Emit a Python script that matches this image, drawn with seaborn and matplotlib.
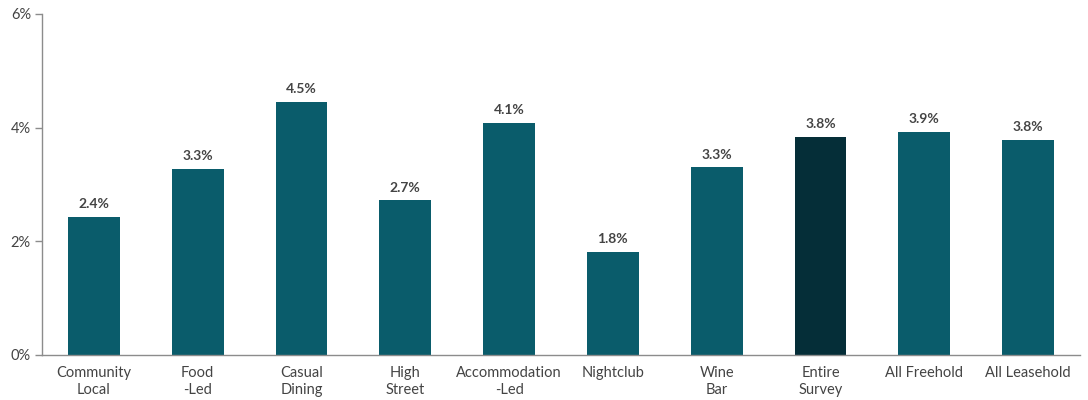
import matplotlib
matplotlib.use("Agg")
import matplotlib.pyplot as plt
import seaborn as sns
import pandas as pd
from matplotlib.ticker import FixedLocator, FuncFormatter

categories = ["Community\nLocal", "Food\n-Led", "Casual\nDining", "High\nStreet",
              "Accommodation\n-Led", "Nightclub", "Wine\nBar", "Entire\nSurvey",
              "All Freehold", "All Leasehold"]
values = [2.43, 3.28, 4.46, 2.72, 4.09, 1.81, 3.30, 3.84, 3.93, 3.78]
highlight = "Entire\nSurvey"

sns.set_theme(style="white")
plt.rcParams["font.family"] = ["Lato", "DejaVu Sans"]

base_color = "#0a5c6b"
dark_color = "#052e38"
text_color = "#444444"
axis_color = "#8c8c8c"

df = pd.DataFrame({"category": categories, "value": values})
palette = {c: (dark_color if c == highlight else base_color) for c in categories}

fig = plt.figure(figsize=(10.88, 4.0), dpi=100)
ax = fig.add_axes([0.0386, 0.1125, 0.954, 0.8525])

sns.barplot(data=df, x="category", y="value", hue="category", palette=palette,
            width=0.5, legend=False, ax=ax, saturation=1, edgecolor="none")

for i, v in enumerate(values):
    ax.text(i, v + 0.12, f"{v:.1f}%", ha="center", va="bottom",
            fontsize=10, fontweight="bold", color=text_color)

ax.set_ylim(0, 6)
ax.set_xlim(-0.5, len(categories) - 0.5)
ax.set_yticks([0, 2, 4, 6])
ax.yaxis.set_major_formatter(FuncFormatter(lambda y, _: f"{y:.0f}%"))
ax.set_xlabel("")
ax.set_ylabel("")

# category labels centred under bars, tick marks at the category boundaries
ax.tick_params(axis="x", which="major", length=0, pad=8, labelsize=10.5, labelcolor=text_color)
for lbl in ax.get_xticklabels():
    lbl.set_linespacing(1.3)
ax.xaxis.set_minor_locator(FixedLocator([i - 0.5 for i in range(len(categories) + 1)]))
ax.tick_params(axis="x", which="minor", length=5, width=1, color=axis_color, direction="out")
ax.tick_params(axis="y", which="major", length=5, width=1, color=axis_color,
               labelsize=10.5, labelcolor=text_color, pad=3, left=True)

for side in ["top", "right"]:
    ax.spines[side].set_visible(False)
for side in ["left", "bottom"]:
    ax.spines[side].set_color(axis_color)
    ax.spines[side].set_linewidth(1)

fig.savefig("out.png", dpi=100)
